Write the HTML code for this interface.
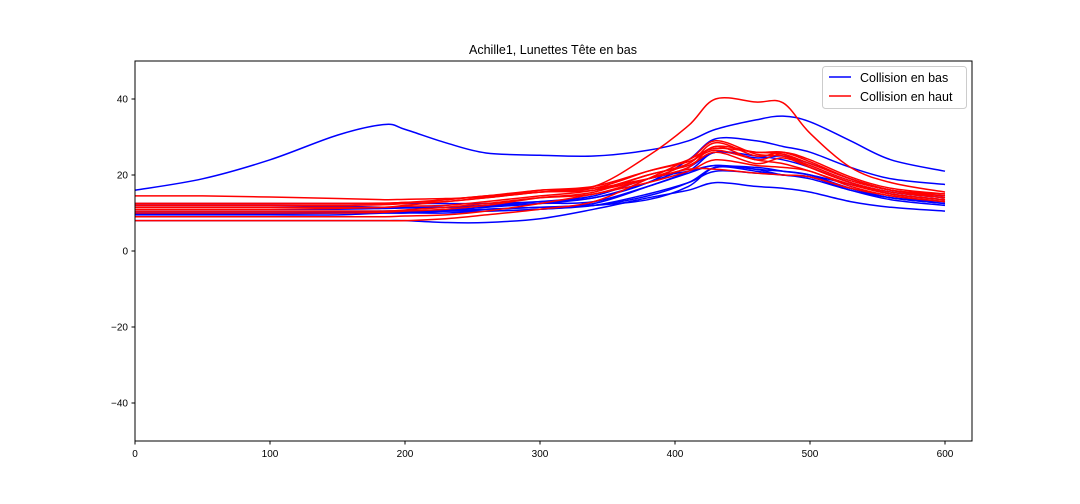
<!DOCTYPE html>
<html><head><meta charset="utf-8"><style>
body{margin:0;background:#fff;}
svg{display:block;font-family:"Liberation Sans","DejaVu Sans",sans-serif;}
</style></head><body>
<svg id="chart" width="1080" height="504">
<rect x="0" y="0" width="1080" height="504" fill="#fff"/>
<text x="553" y="54" text-anchor="middle" font-size="12.5" fill="#000">Achille1, Lunettes Tête en bas</text>
<g id="plot"></g>
<rect x="135" y="61" width="837" height="380" fill="none" stroke="#000" stroke-width="1"/>
<g id="axes"></g>
<g>
<rect x="822.5" y="66.5" width="144" height="42" rx="3" fill="#fff" fill-opacity="0.85" stroke="#ccc"/>
<line x1="829" y1="77" x2="851" y2="77" stroke="#0000ff" stroke-width="1.5"/>
<text x="860" y="82" font-size="12.5">Collision en bas</text>
<line x1="829" y1="96" x2="851" y2="96" stroke="#ff0000" stroke-width="1.5"/>
<text x="860" y="101" font-size="12.5">Collision en haut</text>
</g>
</svg>
<script>
const xs=[0,50,100,150,185,200,230,260,300,340,380,410,430,460,480,500,530,560,600];
const blueSeries=[
[16,19,24,30.5,33.3,32,28.5,25.8,25.2,25,26.5,29,32,34.5,35.5,34,29,24,21],
[8,8,8,8,8,8,7.5,7.5,8.5,11,14,16,18,17,16.5,15.5,13,11.5,10.5],
[12.5,12.5,12.5,12.5,12.5,12.5,12.5,12.5,13,14,18,24,29.5,29,27.5,26,22,19,17.5],
[10,10,10,10,10,10,10.5,11,11.5,12.5,17,21,26,24.5,25,23,19,16,14.5],
[10.5,10.5,10.5,10.5,10.5,10.5,10.5,10.5,11,12,13.5,17,22,21,20,19.5,16,13.5,12],
[11,11,11,11,11.2,11.3,11.5,12,13,14.5,19,21,22.5,21.5,21,20,16.5,14,12.5],
[9.5,9.5,9.5,9.5,10,10,10,10.5,11,12,15,18,21,20.5,20,19,16,14,13],
[12,12,12,11.8,11.5,11.5,11.5,11.8,12.5,13,17,20.5,22.5,21.5,20,19.5,16.5,14,12.5],
[10,10,10,10.2,10.5,10.5,10.8,11.5,12.5,14,18,22,26,25,24,22,18,15.5,14],
[9.8,9.8,9.8,10,10.2,10.3,10.5,11,11.5,12,14.5,18,22,22,21,20,17.5,15,13.5]
];
const redSeries=[
[14.5,14.5,14.2,13.8,13.5,13.6,13.8,14.3,16,17,25,33,40,39.2,39,31,22,18,15.5],
[8,8,8,8,8,8,8.5,9.5,11,13,19,24,27,26,25.5,23,19,16,14],
[11.5,11.5,11.5,11.5,11.5,11.8,12,13,14.5,16,20,23,28.5,25,26,24,19.5,16.5,15],
[12.5,12.5,12.5,12.5,12.5,12.8,13,14,15.5,16.5,21,24,29,25.5,25,22.5,18.5,16,14.5],
[10.5,10.5,10.5,10.5,10.5,10.8,11.5,12.5,14,15,19,22,27.5,24,25.5,22,18,15.5,14],
[10,10,10,10,10.2,10.5,11,12,14,15.5,20,22.5,26,23,24.5,22,18,15,13.5],
[12,12,12,12,12.2,12.5,13.5,14.5,16,17,21,23.5,26.5,24,23,21,17.5,15,13.5],
[9,9,9,9,9,9.2,9.5,10.5,12.5,15,18,21,24,22.5,22,21,17,14.5,13],
[11,11,11,11.2,11.5,12,13,14,15.5,16.5,19,21.5,21.5,20.5,20,19.5,16.5,14.5,13],
[12.5,12.5,12.5,12.5,12.6,12.8,13.5,14.5,15.5,16,19,23,27.5,26,26,23.5,19,16,15]
];
const xTicks=[0,100,200,300,400,500,600];
const yTicks=[-40,-20,0,20,40];
const X=v=>135+v*(837/620);
const Y=v=>251-v*3.8;
const NS="http://www.w3.org/2000/svg";
const plot=document.getElementById('plot'),axes=document.getElementById('axes');
function pathFor(ys){
  const p=xs.map((x,i)=>[X(x),Y(ys[i])]);
  let d=`M${p[0][0]},${p[0][1]}`;
  for(let i=0;i<p.length-1;i++){
    const p0=p[Math.max(0,i-1)],p1=p[i],p2=p[i+1],p3=p[Math.min(p.length-1,i+2)];
    const c1=[p1[0]+(p2[0]-p0[0])/6,p1[1]+(p2[1]-p0[1])/6];
    const c2=[p2[0]-(p3[0]-p1[0])/6,p2[1]-(p3[1]-p1[1])/6];
    d+=`C${c1[0]},${c1[1]} ${c2[0]},${c2[1]} ${p2[0]},${p2[1]}`;
  }
  return d;
}
function drawSet(set,color,name){
  set.forEach((ys,i)=>{
    const el=document.createElementNS(NS,'path');
    el.setAttribute('d',pathFor(ys));
    el.setAttribute('fill','none');el.setAttribute('stroke',color);el.setAttribute('stroke-width','1.5');
    
    
    plot.appendChild(el);
  });
}
drawSet(blueSeries,'#0000ff','line-bas');
drawSet(redSeries,'#ff0000','line-haut');
xTicks.forEach(v=>{
  const l=document.createElementNS(NS,'line');
  l.setAttribute('x1',X(v));l.setAttribute('x2',X(v));l.setAttribute('y1',441);l.setAttribute('y2',444.5);l.setAttribute('stroke','#000');
  
  
  axes.appendChild(l);
  const t=document.createElementNS(NS,'text');
  t.setAttribute('x',X(v));t.setAttribute('y',457);t.setAttribute('text-anchor','middle');t.setAttribute('font-size','10');
  t.textContent=v;
  
  
  axes.appendChild(t);
});
yTicks.forEach(v=>{
  const l=document.createElementNS(NS,'line');
  l.setAttribute('x1',131.5);l.setAttribute('x2',135);l.setAttribute('y1',Y(v));l.setAttribute('y2',Y(v));l.setAttribute('stroke','#000');
  
  
  axes.appendChild(l);
  const t=document.createElementNS(NS,'text');
  t.setAttribute('x',128);t.setAttribute('y',Y(v)+3.5);t.setAttribute('text-anchor','end');t.setAttribute('font-size','10');
  t.textContent=v<0?'\u2212'+(-v):v;
  
  
  axes.appendChild(t);
});
</script>
</body></html>
